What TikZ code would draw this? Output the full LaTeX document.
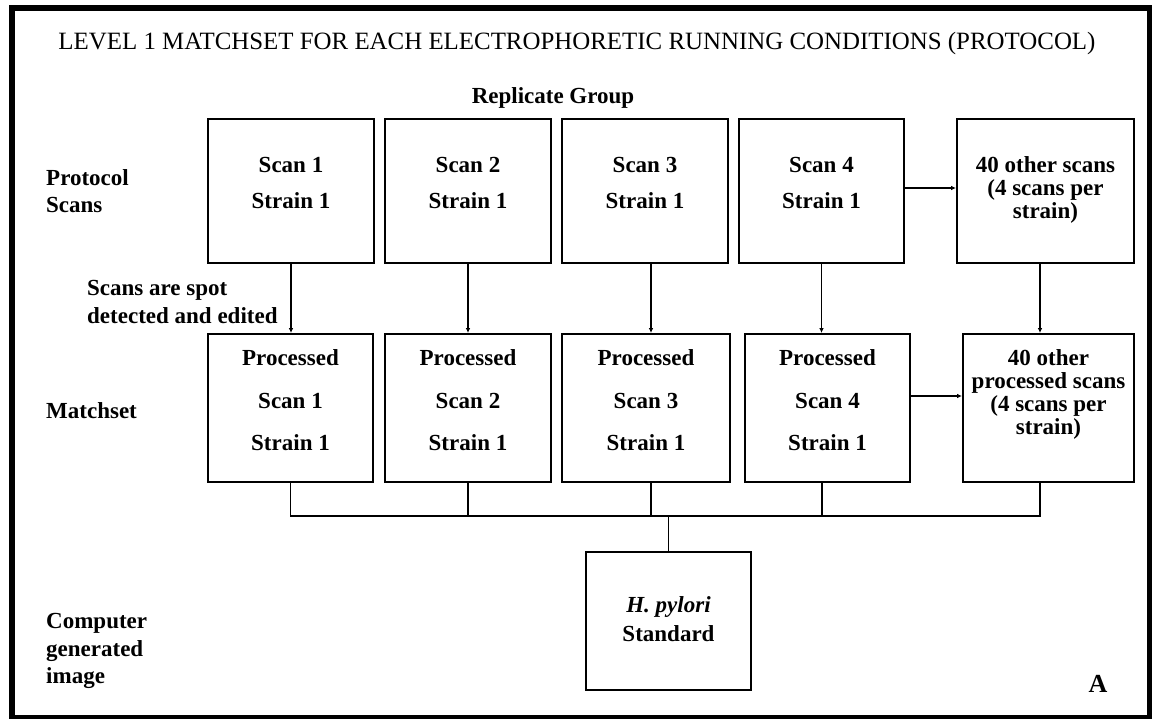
\documentclass[tikz,border=0pt]{standalone}
\usepackage{fontspec}
\setmainfont{Liberation Serif}
\usetikzlibrary{arrows.meta}
\begin{document}
\begin{tikzpicture}[x=1pt,y=-1pt,
  box/.style={draw, line width=1.8pt, inner sep=0pt, minimum height=#1},
  box/.default=144pt,
  txt/.style={anchor=base, inner sep=0pt, font=\bfseries\fontsize{23}{23}\selectfont},
  lbl/.style={txt, anchor=base west},
  conn/.style={line width=1.8pt},
  arr/.style={conn, -{Latex[length=5pt,width=4.5pt]}}]
\useasboundingbox (0,0) rectangle (1152,718);
\fill[white] (0,0) rectangle (1152,718);
\draw[line width=6pt] (12,7.5) rectangle (1150,718);

% title and side labels
\node[anchor=base, inner sep=0pt, font=\fontsize{24.9}{24.9}\selectfont] (title) at (577,49)
  {LEVEL 1 MATCHSET FOR EACH ELECTROPHORETIC RUNNING CONDITIONS (PROTOCOL)};
\node[txt] (rep) at (553,103) {Replicate Group};
\node[lbl] (protA) at (46,185) {Protocol};
\node[lbl] (protB) at (46,212) {Scans};
\node[lbl] (spotA) at (87,295) {Scans are spot};
\node[lbl] (spotB) at (87,323) {detected and edited};
\node[lbl] (match) at (46,418) {Matchset};
\node[lbl] (compA) at (46,628) {Computer};
\node[lbl] (compB) at (46,656) {generated};
\node[lbl] (compC) at (46,683) {image};
\node[txt, font=\bfseries\fontsize{26}{26}\selectfont] (letA) at (1098,692) {A};

% row 1 boxes
\node[box, minimum width=166pt] (s1) at (291,191) {};
\node[box, minimum width=166pt] (s2) at (468,191) {};
\node[box, minimum width=166pt] (s3) at (645,191) {};
\node[box, minimum width=165pt] (s4) at (821.5,191) {};
\node[box, minimum width=177pt] (s5) at (1045.5,191) {};
\node[txt] (s1a) at (291,172) {Scan 1};   \node[txt] (s1b) at (291,208) {Strain 1};
\node[txt] (s2a) at (468,172) {Scan 2};   \node[txt] (s2b) at (468,208) {Strain 1};
\node[txt] (s3a) at (645,172) {Scan 3};   \node[txt] (s3b) at (645,208) {Strain 1};
\node[txt] (s4a) at (821.5,172) {Scan 4}; \node[txt] (s4b) at (821.5,208) {Strain 1};
\node[txt] (s5a) at (1045.5,172) {40 other scans};
\node[txt] (s5b) at (1045.5,195) {(4 scans per};
\node[txt] (s5c) at (1045.5,218) {strain)};

% row 2 boxes
\node[box=148pt, minimum width=165pt] (p1) at (290.5,408) {};
\node[box=148pt, minimum width=166pt] (p2) at (468,408) {};
\node[box=148pt, minimum width=168pt] (p3) at (646,408) {};
\node[box=148pt, minimum width=165pt] (p4) at (827.5,408) {};
\node[box=148pt, minimum width=171pt] (p5) at (1048.5,408) {};
\node[txt] (p1a) at (290.5,365) {Processed}; \node[txt] (p1b) at (290.5,408) {Scan 1}; \node[txt] (p1c) at (290.5,450) {Strain 1};
\node[txt] (p2a) at (468,365) {Processed};   \node[txt] (p2b) at (468,408) {Scan 2};   \node[txt] (p2c) at (468,450) {Strain 1};
\node[txt] (p3a) at (646,365) {Processed};   \node[txt] (p3b) at (646,408) {Scan 3};   \node[txt] (p3c) at (646,450) {Strain 1};
\node[txt] (p4a) at (827.5,365) {Processed}; \node[txt] (p4b) at (827.5,408) {Scan 4}; \node[txt] (p4c) at (827.5,450) {Strain 1};
\node[txt] (p5a) at (1048.5,365) {40 other};
\node[txt] (p5b) at (1048.5,388) {processed scans};
\node[txt] (p5c) at (1048.5,411) {(4 scans per};
\node[txt] (p5d) at (1048.5,434) {strain)};

% standard box
\node[box=138pt, minimum width=165pt] (std) at (668.5,621) {};
\node[txt] (stda) at (668.5,612) {\itshape H. pylori};
\node[txt] (stdb) at (668.5,641) {Standard};

% vertical arrows
\draw[arr] (s1.south) -- (s1.south |- p1.north);
\draw[arr] (s2.south) -- (p2.north);
\draw[arr] ([xshift=6pt]s3.south) -- ([xshift=6pt]s3.south |- p3.north);
\draw[arr] (s4.south) -- (s4.south |- p4.north);
\draw[arr] ([xshift=-5.5pt]s5.south) -- ([xshift=-5.5pt]s5.south |- p5.north);
% horizontal arrows
\draw[arr] ([yshift=3pt]s4.east) -- ([yshift=3pt]s4.east -| s5.west);
\draw[arr] ([yshift=12pt]p4.east) -- ([yshift=12pt]p4.east -| p5.west);

% bus to standard
\coordinate (bus) at (0,516);
\draw[conn] (p1.south) |- ([xshift=-8.5pt]p5.south |- bus) -- ([xshift=-8.5pt]p5.south);
\draw[conn] (p2.south) -- (p2.south |- bus);
\draw[conn] ([xshift=5pt]p3.south) -- ([xshift=5pt]p3.south |- bus);
\draw[conn] ([xshift=-5.5pt]p4.south) -- ([xshift=-5.5pt]p4.south |- bus);
\draw[conn] (std.north) -- (std.north |- bus);
\end{tikzpicture}
\end{document}
